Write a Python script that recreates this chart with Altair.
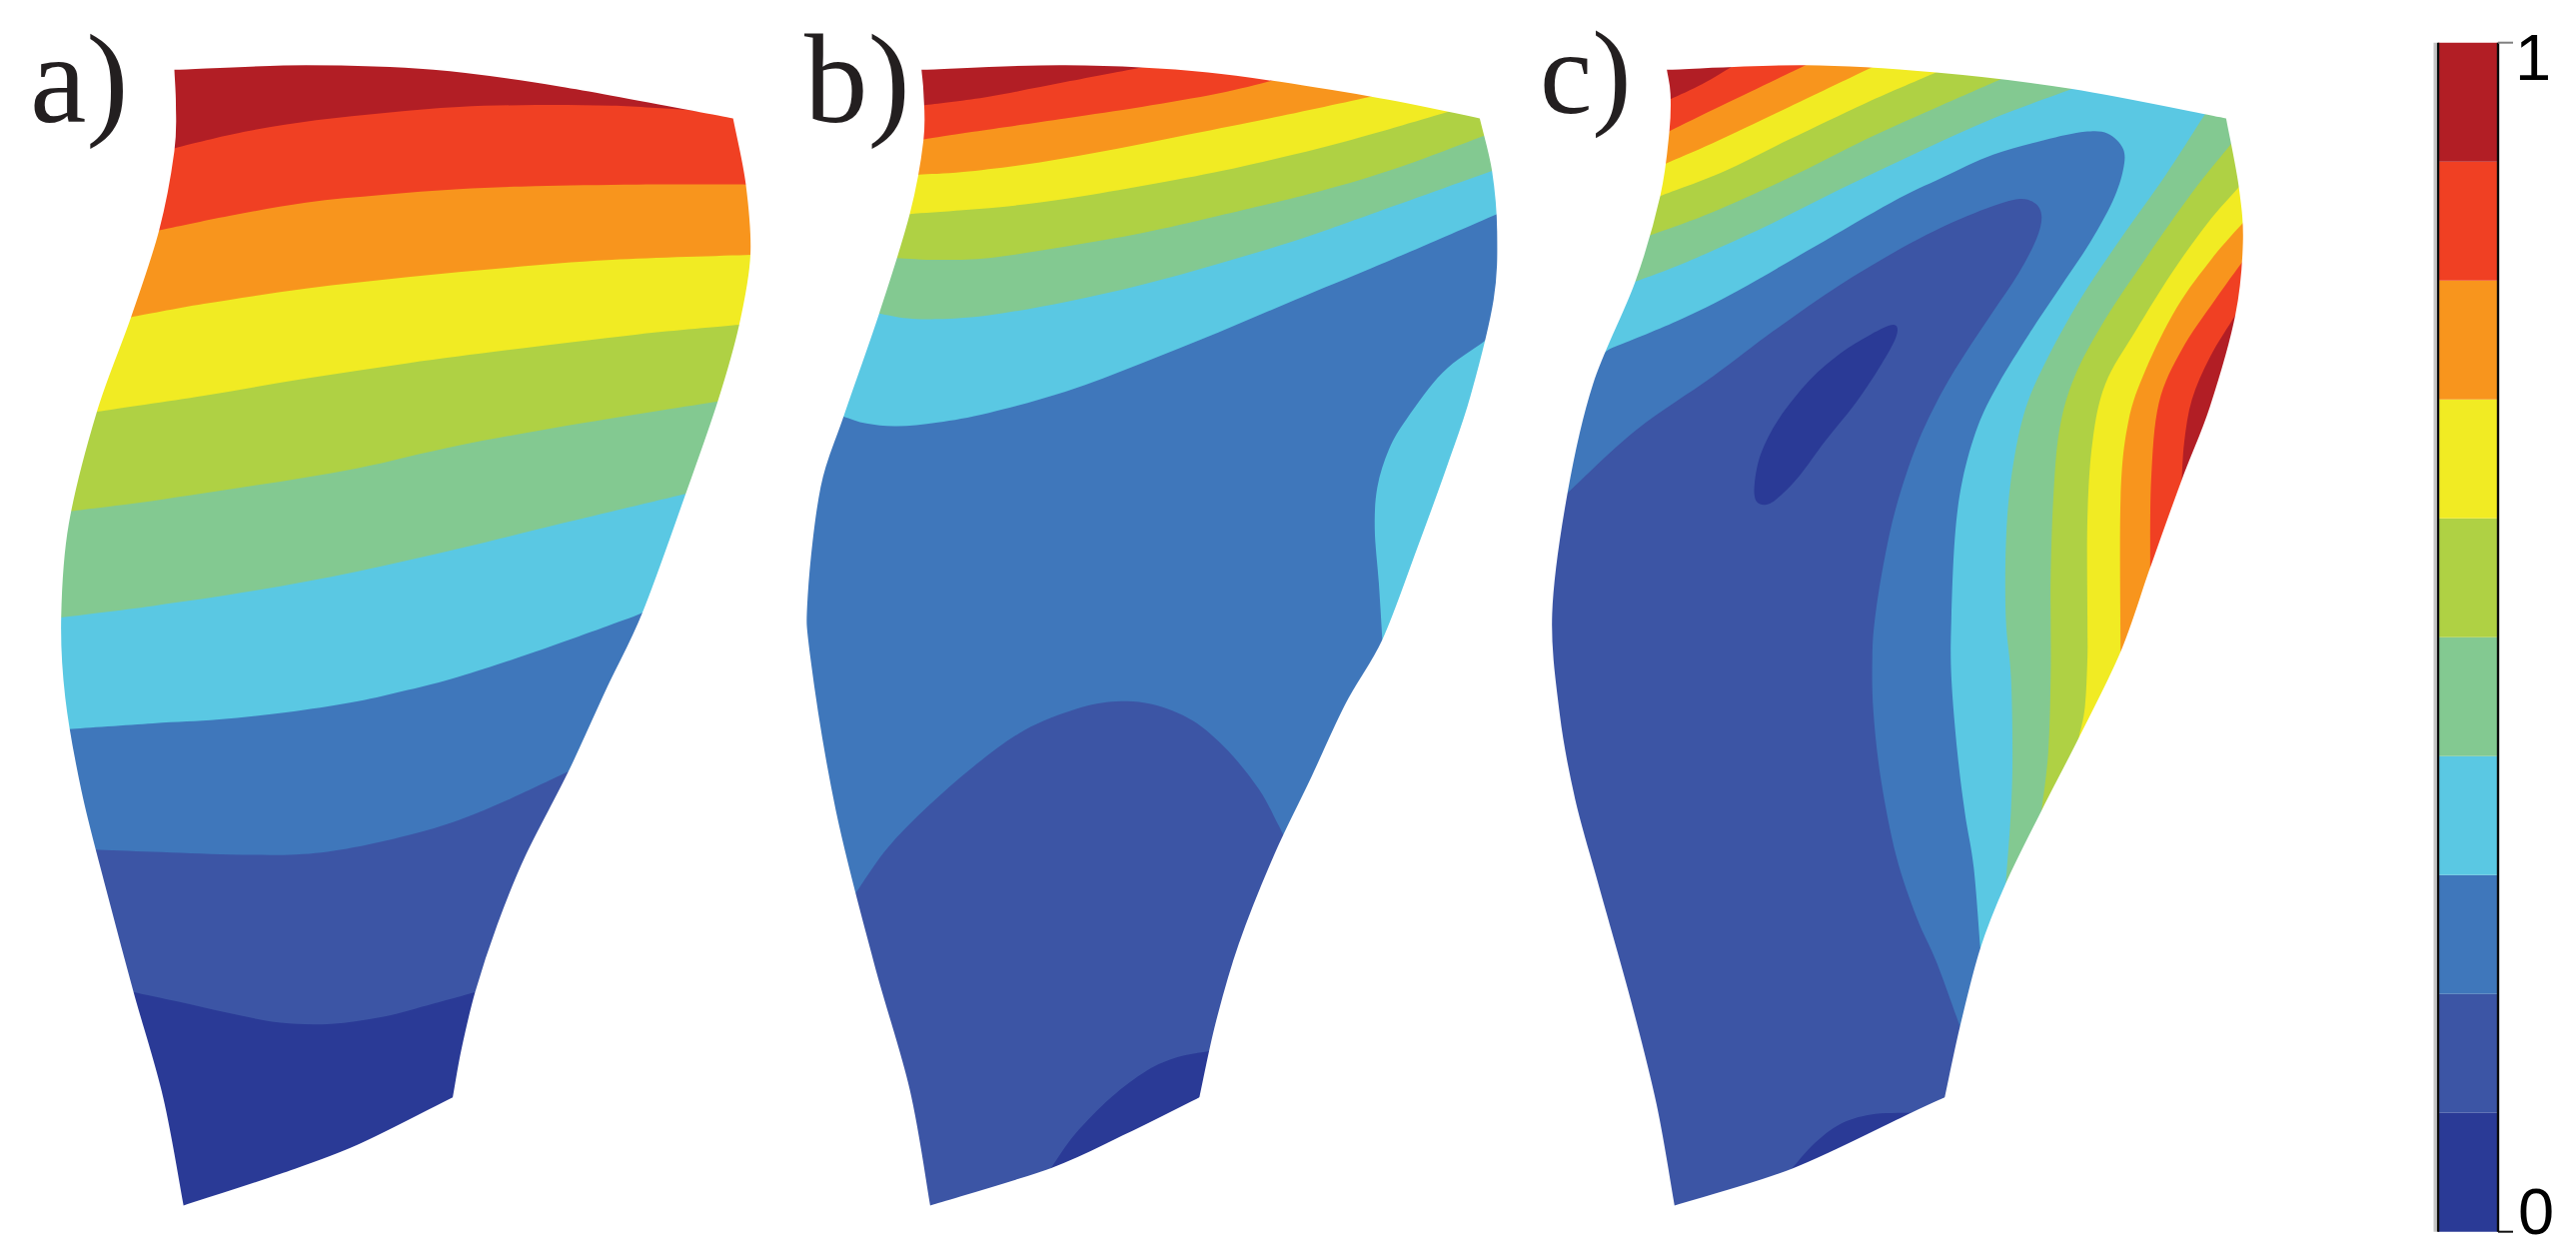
import math
import altair as alt
import pandas as pd

# Contour colours from lowest to highest level
NAVY, BLUE, MID, CYAN, GREEN, LIME, YELLOW, ORANGE, RED, DARK = (
    "#2A3A96", "#3C55A5", "#3F77BB", "#5AC8E3", "#83C991",
    "#AFD144", "#F1EB23", "#F8951D", "#F04023", "#B21E25")
BAND_COLORS = [NAVY, BLUE, MID, CYAN, GREEN, LIME, YELLOW, ORANGE, RED, DARK]
BAND_LEVELS = [0.0, 0.1, 0.2, 0.3, 0.4, 0.5, 0.6, 0.7, 0.8, 0.9, 1.0]

# Traced shapes. Reading units: x = x0 + X/1.96, y = 40 + Y/2.613
AX0, BX0, CX0 = 0, 760, 1510

OUT_A = [(342,78),(470,68),(600,66),(735,70),(850,78),(980,95),(1100,122),(1250,158),(1340,182),(1438,205),
 (1455,290),(1463,378),(1470,470),(1472,562),(1465,660),(1450,745),(1430,850),(1408,945),(1375,1060),(1345,1187),
 (1300,1340),(1260,1498),(1190,1695),(1115,1913),(1060,2045),(1015,2185),(975,2315),(950,2415),(932,2490),(910,2615),(888,2765),
 (700,2890),(550,2965),(360,3048),
 (345,2915),(320,2765),(290,2595),(262,2490),(235,2345),(205,2205),(185,2117),(160,1965),(135,1802),(125,1635),(120,1510),
 (122,1400),(130,1300),(140,1232),(165,1080),(190,972),(225,840),(257,725),(285,600),(312,498),(330,390),(345,282),(348,180)]
EDGES_A = [
 [(342,78),(600,66),(850,78),(1100,122),(1438,205)],
 [(1438,205),(1463,378),(1472,562),(1450,745),(1408,945),(1345,1187),(1260,1498),(1190,1695),(1115,1913),(1030,2135),(975,2315),(932,2490),(905,2640),(888,2765)],
 [(888,2765),(700,2890),(550,2965),(360,3048)],
 [(360,3048),(320,2765),(262,2490),(205,2205),(160,1965),(128,1720),(120,1510),(135,1265),(190,972),(257,725),(312,498),(342,290),(345,170),(342,78)],
]
REG_A = [
 (BLUE,[(262,2490),(350,2515),(450,2545),(550,2570),(650,2573),(750,2555),(850,2520),(932,2490)]),
 (MID,[(185,2117),(300,2123),(450,2130),(580,2130),(680,2115),(800,2080),(900,2040),(1000,1985),(1115,1913)]),
 (CYAN,[(135,1802),(300,1787),(430,1777),(580,1755),(700,1730),(800,1700),(900,1665),(1050,1600),(1228,1515),(1260,1498)]),
 (GREEN,[(120,1510),(300,1480),(500,1440),(700,1390),(900,1330),(1100,1265),(1345,1187)]),
 (LIME,[(140,1232),(300,1205),(500,1165),(700,1120),(900,1060),(1150,1000),(1408,945)]),
 (YELLOW,[(190,972),(400,930),(600,885),(800,845),(1000,810),(1250,770),(1450,745)]),
 (ORANGE,[(257,725),(400,690),(600,650),(800,620),(1000,595),(1200,575),(1472,562)]),
 (RED,[(312,498),(450,460),(600,425),(750,405),(900,390),(1050,382),(1250,378),(1463,378)]),
 (DARK,[(345,282),(480,240),(620,210),(760,190),(900,175),(1050,170),(1200,172),(1340,182)]),
]

OUT_B = [(318,78),(440,68),(600,66),(750,72),(880,85),(1010,105),(1200,148),(1350,188),(1413,205),
 (1422,250),(1437,342),(1447,455),(1447,560),(1440,680),(1420,790),(1395,930),(1350,1110),(1290,1330),(1232,1515),(1222,1568),
 (1150,1735),(1080,1935),(1030,2085),(980,2225),(940,2365),(910,2495),(880,2645),(863,2765),
 (720,2860),(572,2950),(335,3048),
 (320,2895),(295,2745),(262,2595),(225,2415),(187,2235),(150,2015),(120,1815),(100,1615),(95,1515),(95,1450),
 (105,1300),(120,1170),(140,1060),(165,985),(205,830),(235,715),(270,570),(295,455),(313,352),(322,260),(327,170)]
EDGES_B = [
 [(318,78),(600,66),(880,85),(1200,148),(1413,205)],
 [(1413,205),(1437,342),(1447,500),(1440,680),(1395,930),(1350,1110),(1290,1330),(1222,1568),(1150,1735),(1080,1935),(1010,2130),(940,2365),(895,2570),(863,2765)],
 [(863,2765),(720,2860),(572,2950),(335,3048)],
 [(335,3048),(295,2745),(225,2415),(150,2015),(100,1615),(95,1450),(120,1170),(165,985),(235,715),(295,455),(322,260),(322,140),(318,78)],
]
REG_B = [
 (NAVY,[(880,2645),(820,2660),(760,2695),(690,2765),(620,2860),(572,2950)]),
 (MID,[(187,2235),(250,2115),(330,2005),(420,1900),(520,1805),(620,1750),(700,1730),(770,1737),(850,1780),(920,1860),(980,1960),(1015,2045),(1030,2085)]),
 (CYAN,[(165,985),(210,1003),(270,1010),(350,1000),(450,975),(600,920),(750,845),(900,765),(1050,680),(1200,597),(1300,540),(1447,455)]),
 (CYAN,[(1420,790),(1340,870),(1270,990),(1235,1070),(1212,1170),(1207,1280),(1215,1420),(1222,1568)]),
 (GREEN,[(235,715),(290,728),(350,730),(450,720),(600,685),(750,640),(900,585),(1050,525),(1200,455),(1437,342)]),
 (LIME,[(270,570),(350,575),(450,570),(600,540),(750,505),(900,460),(1100,395),(1250,335),(1422,250)]),
 (YELLOW,[(295,455),(400,445),(520,430),(650,405),(800,370),(950,330),(1150,265),(1350,188)]),
 (ORANGE,[(313,352),(400,345),(550,320),(700,285),(850,245),(1000,205),(1200,148)]),
 (RED,[(322,260),(420,240),(600,205),(750,175),(900,140),(1010,105)]),
 (DARK,[(327,170),(450,148),(600,110),(750,72)]),
]

OUT_C = [(310,78),(440,68),(582,66),(712,72),(838,85),(970,100),(1105,128),(1250,160),(1365,195),(1407,205),
 (1418,270),(1432,385),(1440,478),(1440,578),(1425,720),(1400,850),(1375,960),(1320,1150),(1258,1380),(1225,1515),
 (1200,1600),(1118,1825),(1045,2015),(975,2205),(925,2375),(885,2580),(870,2650),(855,2765),
 (790,2805),(555,2952),(325,3048),
 (310,2915),(290,2785),(265,2635),(240,2515),(210,2365),(175,2205),(130,1985),(100,1765),(88,1575),(85,1500),
 (100,1280),(115,1185),(135,1050),(165,900),(203,805),(248,632),(275,512),(297,408),(310,322),(317,237),(317,155)]
EDGES_C = [
 [(310,78),(582,66),(838,85),(1105,128),(1407,205)],
 [(1407,205),(1432,385),(1440,530),(1425,720),(1375,960),(1320,1150),(1258,1380),(1200,1600),(1118,1825),(1045,2015),(975,2205),(925,2375),(885,2580),(855,2765)],
 [(855,2765),(790,2805),(555,2952),(325,3048)],
 [(325,3048),(290,2785),(240,2515),(175,2205),(130,1985),(100,1765),(85,1500),(115,1185),(165,900),(248,632),(297,408),(315,237),(317,140),(310,78)],
]
REG_C = [
 (NAVY,[(790,2805),(710,2810),(650,2835),(600,2885),(555,2952)]),
 (MID,[(115,1185),(250,1020),(400,880),(520,760),(650,640),(790,530),(900,460),(990,418),(1030,425),(1045,460),(1035,520),
       (1000,610),(950,710),(900,810),(850,920),(800,1060),(760,1220),(735,1370),(718,1515),(713,1615),(715,1755),(730,1935),
       (760,2135),(800,2295),(840,2415),(885,2580)]),
 (CYAN,[(203,805),(330,735),(450,655),(600,540),(750,425),(850,360),(950,300),(1050,262),(1130,240),(1175,245),(1205,285),
        (1205,340),(1185,420),(1140,530),(1080,650),(1020,770),(960,900),(920,1010),(890,1150),(875,1300),(868,1515),(868,1665),
        (880,1865),(895,2025),(912,2165),(925,2375)]),
 (GREEN,[(248,632),(350,580),(500,490),(650,390),(800,295),(950,205),(1105,128)]),
 (GREEN,[(1365,195),(1290,350),(1200,520),(1120,680),(1050,850),(1010,980),(985,1150),(975,1320),(975,1515),(985,1665),(988,1865),(985,2015),(975,2205)]),
 (LIME,[(275,512),(400,450),(550,360),(700,260),(850,170),(970,100)]),
 (LIME,[(1418,270),(1340,400),(1250,570),(1170,730),(1110,880),(1080,1020),(1068,1200),(1063,1400),(1063,1515),(1063,1665),(1058,1865),(1045,2015)]),
 (YELLOW,[(297,408),(420,345),(550,260),(700,165),(838,85)]),
 (YELLOW,[(1432,385),(1370,480),(1300,610),(1230,760),(1170,900),(1145,1050),(1135,1250),(1135,1515),(1135,1615),(1130,1745),(1118,1825)]),
 (ORANGE,[(310,322),(400,270),(550,175),(712,72)]),
 (ORANGE,[(1440,478),(1380,570),(1310,700),(1250,860),(1215,1000),(1200,1200),(1200,1600)]),
 (RED,[(317,237),(420,170),(582,66)]),
 (RED,[(1440,578),(1385,680),(1320,810),(1275,950),(1260,1150),(1258,1380)]),
 (DARK,[(317,155),(380,115),(440,68)]),
 (DARK,[(1425,720),(1375,830),(1340,940),(1325,1050),(1320,1150)]),
]
ISLAND_C = [(755,745),(760,775),(730,850),(680,950),(620,1050),(570,1140),(530,1195),(505,1215),(485,1205),(482,1160),
            (495,1080),(530,990),(590,890),(650,820),(710,770)]

LABEL_TEXT = ["a)", "b)", "c)"]
LABEL_X = [30, 805, 1541]
LABEL_Y = [122, 122, 113]
LABEL_SIZE = [127, 127, 118]

PUSH = 14      # colour fields run this far past the blade edge
MASK = 40      # width of the white strip that trims them back to the edge

# Page geometry
W, H = 2562, 1241
XS = alt.Scale(domain=[8, 8 + W], nice=False, zero=False)
YS = alt.Scale(domain=[8 + H, 8], nice=False, zero=False)
Y01 = alt.Scale(domain=[0, 1], range=[1224.7, 34.7], nice=False, zero=False)
X = lambda f="x": alt.X(f"{f}:Q", scale=XS, axis=None, title=None)
Y = alt.Y("y:Q", scale=YS, axis=None, title=None)
YU = alt.Y("v:Q", scale=Y01, axis=None, title=None)


def to_px(points, x0):
    return [(x0 + p[0] / 1.96, 40 + p[1] / 2.613) for p in points]


def unit(dx, dy):
    d = math.hypot(dx, dy) or 1.0
    return dx / d, dy / d


def seg_normal(a, b):
    ux, uy = unit(b[0] - a[0], b[1] - a[1])
    return uy, -ux


def pushed_outline(px):
    n = len(px)
    res = []
    for i in range(n):
        n1 = seg_normal(px[i - 1], px[i])
        n2 = seg_normal(px[i], px[(i + 1) % n])
        nx, ny = unit(n1[0] + n2[0], n1[1] + n2[1])
        res.append((px[i][0] + PUSH * nx, px[i][1] + PUSH * ny))
    return res


def walk_region(outline, outer, contour, x0):
    n = len(outline)
    def nearest(p):
        return min(range(n), key=lambda i: (outline[i][0] - p[0]) ** 2 + (outline[i][1] - p[1]) ** 2)
    start, end = nearest(contour[0]), nearest(contour[-1])
    c = to_px(contour, x0)
    us = unit(c[0][0] - c[1][0], c[0][1] - c[1][1])
    ue = unit(c[-1][0] - c[-2][0], c[-1][1] - c[-2][1])
    pts = [(c[0][0] + PUSH * us[0], c[0][1] + PUSH * us[1])] + c + [(c[-1][0] + PUSH * ue[0], c[-1][1] + PUSH * ue[1])]
    j = (end - 1) % n
    while j != start:
        pts.append(outer[j])
        j = (j - 1) % n
    return pts


def frame_of(points):
    return pd.DataFrame({"x": [p[0] for p in points], "y": [p[1] for p in points], "i": list(range(len(points)))})


def poly(points, color):
    return alt.Chart(frame_of(points)).mark_line(fill=color, strokeWidth=0, interpolate="cardinal-closed").encode(
        x=X(), y=Y, order=alt.Order("i:Q"))


def edge_masks(edges, x0):
    res = []
    for edge in edges:
        e = to_px(edge, x0)
        off = []
        for m in range(len(e)):
            n1 = seg_normal(e[m - 1], e[m]) if m > 0 else seg_normal(e[0], e[1])
            n2 = seg_normal(e[m], e[m + 1]) if m < len(e) - 1 else seg_normal(e[-2], e[-1])
            nx, ny = unit(n1[0] + n2[0], n1[1] + n2[1])
            off.append((e[m][0] + MASK / 2 * nx, e[m][1] + MASK / 2 * ny))
        u0 = unit(off[0][0] - off[1][0], off[0][1] - off[1][1])
        u1 = unit(off[-1][0] - off[-2][0], off[-1][1] - off[-2][1])
        pts = [(off[0][0] + 40 * u0[0], off[0][1] + 40 * u0[1])] + off + \
              [(off[-1][0] + 40 * u1[0], off[-1][1] + 40 * u1[1])]
        res.append(alt.Chart(frame_of(pts)).mark_line(
            stroke="white", strokeWidth=MASK, strokeCap="butt", interpolate="cardinal").encode(
            x=X(), y=Y, order=alt.Order("i:Q")))
    return res


layers, masks = [], []
for x0, base, outline, edges, regs in [(AX0, NAVY, OUT_A, EDGES_A, REG_A),
                                       (BX0, BLUE, OUT_B, EDGES_B, REG_B),
                                       (CX0, BLUE, OUT_C, EDGES_C, REG_C)]:
    px = to_px(outline, x0)
    outer = pushed_outline(px)
    layers.append(poly(outer, base))
    for color, contour in regs:
        layers.append(poly(walk_region(outline, outer, contour, x0), color))
    if x0 == CX0:
        layers.append(poly(to_px(ISLAND_C, x0), NAVY))
    masks += edge_masks(edges, x0)
layers += masks

# Panel letters
for tx, ty, txt, size in zip(LABEL_X, LABEL_Y, LABEL_TEXT, LABEL_SIZE):
    lab = pd.DataFrame({"x": [tx], "y": [ty], "t": [txt]})
    layers.append(alt.Chart(lab).mark_text(font="Liberation Serif", fontSize=size, align="left", baseline="alphabetic",
                                           color="#231F20").encode(x=X(), y=Y, text="t:N"))

# Colour bar
BAR_L, BAR_R = 2440, 2500
bands = pd.DataFrame({"v": BAND_LEVELS[:-1], "v2": BAND_LEVELS[1:], "c": BAND_COLORS,
                      "x": [BAR_L] * 10, "x2": [BAR_R] * 10})
layers.append(alt.Chart(bands).mark_rect().encode(
    x=X(), x2="x2:Q", y=YU, y2="v2:Q",
    color=alt.Color("c:N", scale=None, legend=None)))
frame = pd.DataFrame({"x": [BAR_L - 3, BAR_L, BAR_R], "v": [0, 0, 0], "v2": [1, 1, 1],
                      "w": [3, 2.4, 2.4], "c": ["#C4C4C4", "#0A0A0A", "#0A0A0A"]})
layers.append(alt.Chart(frame).mark_rule().encode(
    x=X(), y=YU, y2="v2:Q",
    strokeWidth=alt.StrokeWidth("w:Q", scale=None, legend=None),
    color=alt.Color("c:N", scale=None, legend=None)))
ticks = pd.DataFrame({"x": [BAR_R, BAR_R], "x2": [2515, 2515], "v": [1, 0], "c": ["#808080", "#111111"]})
layers.append(alt.Chart(ticks).mark_rule(strokeWidth=2).encode(
    x=X(), x2="x2:Q", y=YU, color=alt.Color("c:N", scale=None, legend=None)))
for v, t, dy, tx in [(1, "1", 37, 2517), (0, "0", 2, 2520)]:
    d = pd.DataFrame({"x": [tx], "v": [v], "t": [t]})
    layers.append(alt.Chart(d).mark_text(font="Liberation Sans", fontSize=65, align="left", baseline="alphabetic",
                                         dy=dy, color="#000000").encode(x=X(), y=YU, text="t:N"))

chart = alt.layer(*layers).resolve_scale(y="independent", color="independent").properties(
    width=W, height=H, padding=0, autosize=alt.AutoSizeParams(type="none"), background="white"
).configure_view(stroke=None)

chart.save("out.html", embed_options={"renderer": "svg", "actions": False})
